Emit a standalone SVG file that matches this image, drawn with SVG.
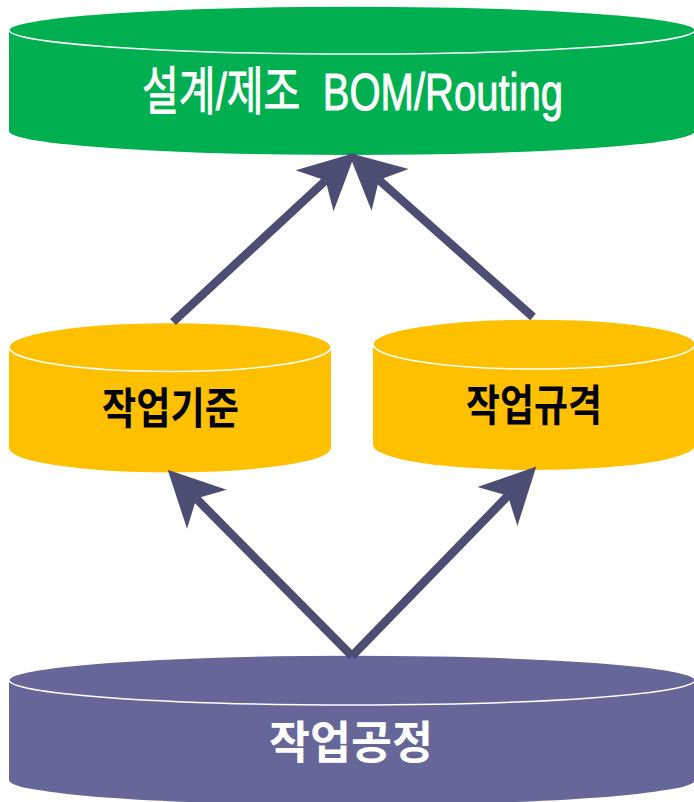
<svg xmlns="http://www.w3.org/2000/svg" width="694" height="802" viewBox="0 0 694 802">
<style>
.top{stroke:#ffffff;stroke-width:1.5}
.lbl{font-family:"Liberation Sans","Noto Sans CJK KR",sans-serif;text-anchor:middle}
.conn{stroke:#4D4D73;stroke-width:8.5;fill:none;marker-end:url(#stealth)}
</style>
<defs>
<marker id="stealth" markerUnits="userSpaceOnUse" markerWidth="60" markerHeight="60" viewBox="-16 -28 56 56" refX="0" refY="0" orient="auto" overflow="visible">
<path d="M38,0 L-14,-26 L0,0 L-14,26 Z" fill="#4D4D73"/>
</marker>
</defs>
<rect width="694" height="802" fill="#ffffff"/>
<g id="node-design">
<path d="M9,30 L9,131 A343,24 0 0 0 695,131 L695,30 A343,24 0 0 0 9,30 Z" fill="#00B050"/>
<ellipse cx="352" cy="30" rx="343" ry="24" fill="#00B050" class="top"/>
<text class="lbl" x="352.5" y="110" font-size="52" fill="#ffffff" stroke="#ffffff" stroke-width="0.9" textLength="421" lengthAdjust="spacingAndGlyphs" xml:space="preserve" style="white-space:pre">설계/제조  BOM/Routing</text>
</g>
<g id="node-standard">
<path d="M9,347 L9,448 A161,24.5 0 0 0 331,448 L331,347 A161,24.5 0 0 0 9,347 Z" fill="#FFC000"/>
<ellipse cx="170" cy="347" rx="161" ry="24.5" fill="#FFC000" class="top"/>
<text class="lbl" x="170.5" y="424" font-size="43" font-weight="bold" fill="#000000" textLength="137" lengthAdjust="spacingAndGlyphs">작업기준</text>
</g>
<g id="node-spec">
<path d="M373,344 L373,445 A161,25 0 0 0 695,445 L695,344 A161,25 0 0 0 373,344 Z" fill="#FFC000"/>
<ellipse cx="534" cy="344" rx="161" ry="25" fill="#FFC000" class="top"/>
<text class="lbl" x="534" y="421" font-size="43" font-weight="bold" fill="#000000" textLength="136" lengthAdjust="spacingAndGlyphs">작업규격</text>
</g>
<g id="node-process">
<path d="M9,680 L9,780 A343,25 0 0 0 695,780 L695,680 A343,25 0 0 0 9,680 Z" fill="#666699"/>
<ellipse cx="352" cy="680" rx="343" ry="25" fill="#666699" class="top"/>
<text class="lbl" x="351" y="759" font-size="45" font-weight="bold" fill="#ffffff" textLength="164" lengthAdjust="spacingAndGlyphs">작업공정</text>
</g>
<g id="connectors">
<line class="conn" x1="173" y1="322" x2="325.6" y2="180.5"/>
<line class="conn" x1="533" y1="317" x2="378.9" y2="179.9"/>
<line class="conn" x1="352" y1="656" x2="196.3" y2="498.6"/>
<line class="conn" x1="352" y1="656" x2="507.9" y2="495.8"/>
</g>
</svg>
